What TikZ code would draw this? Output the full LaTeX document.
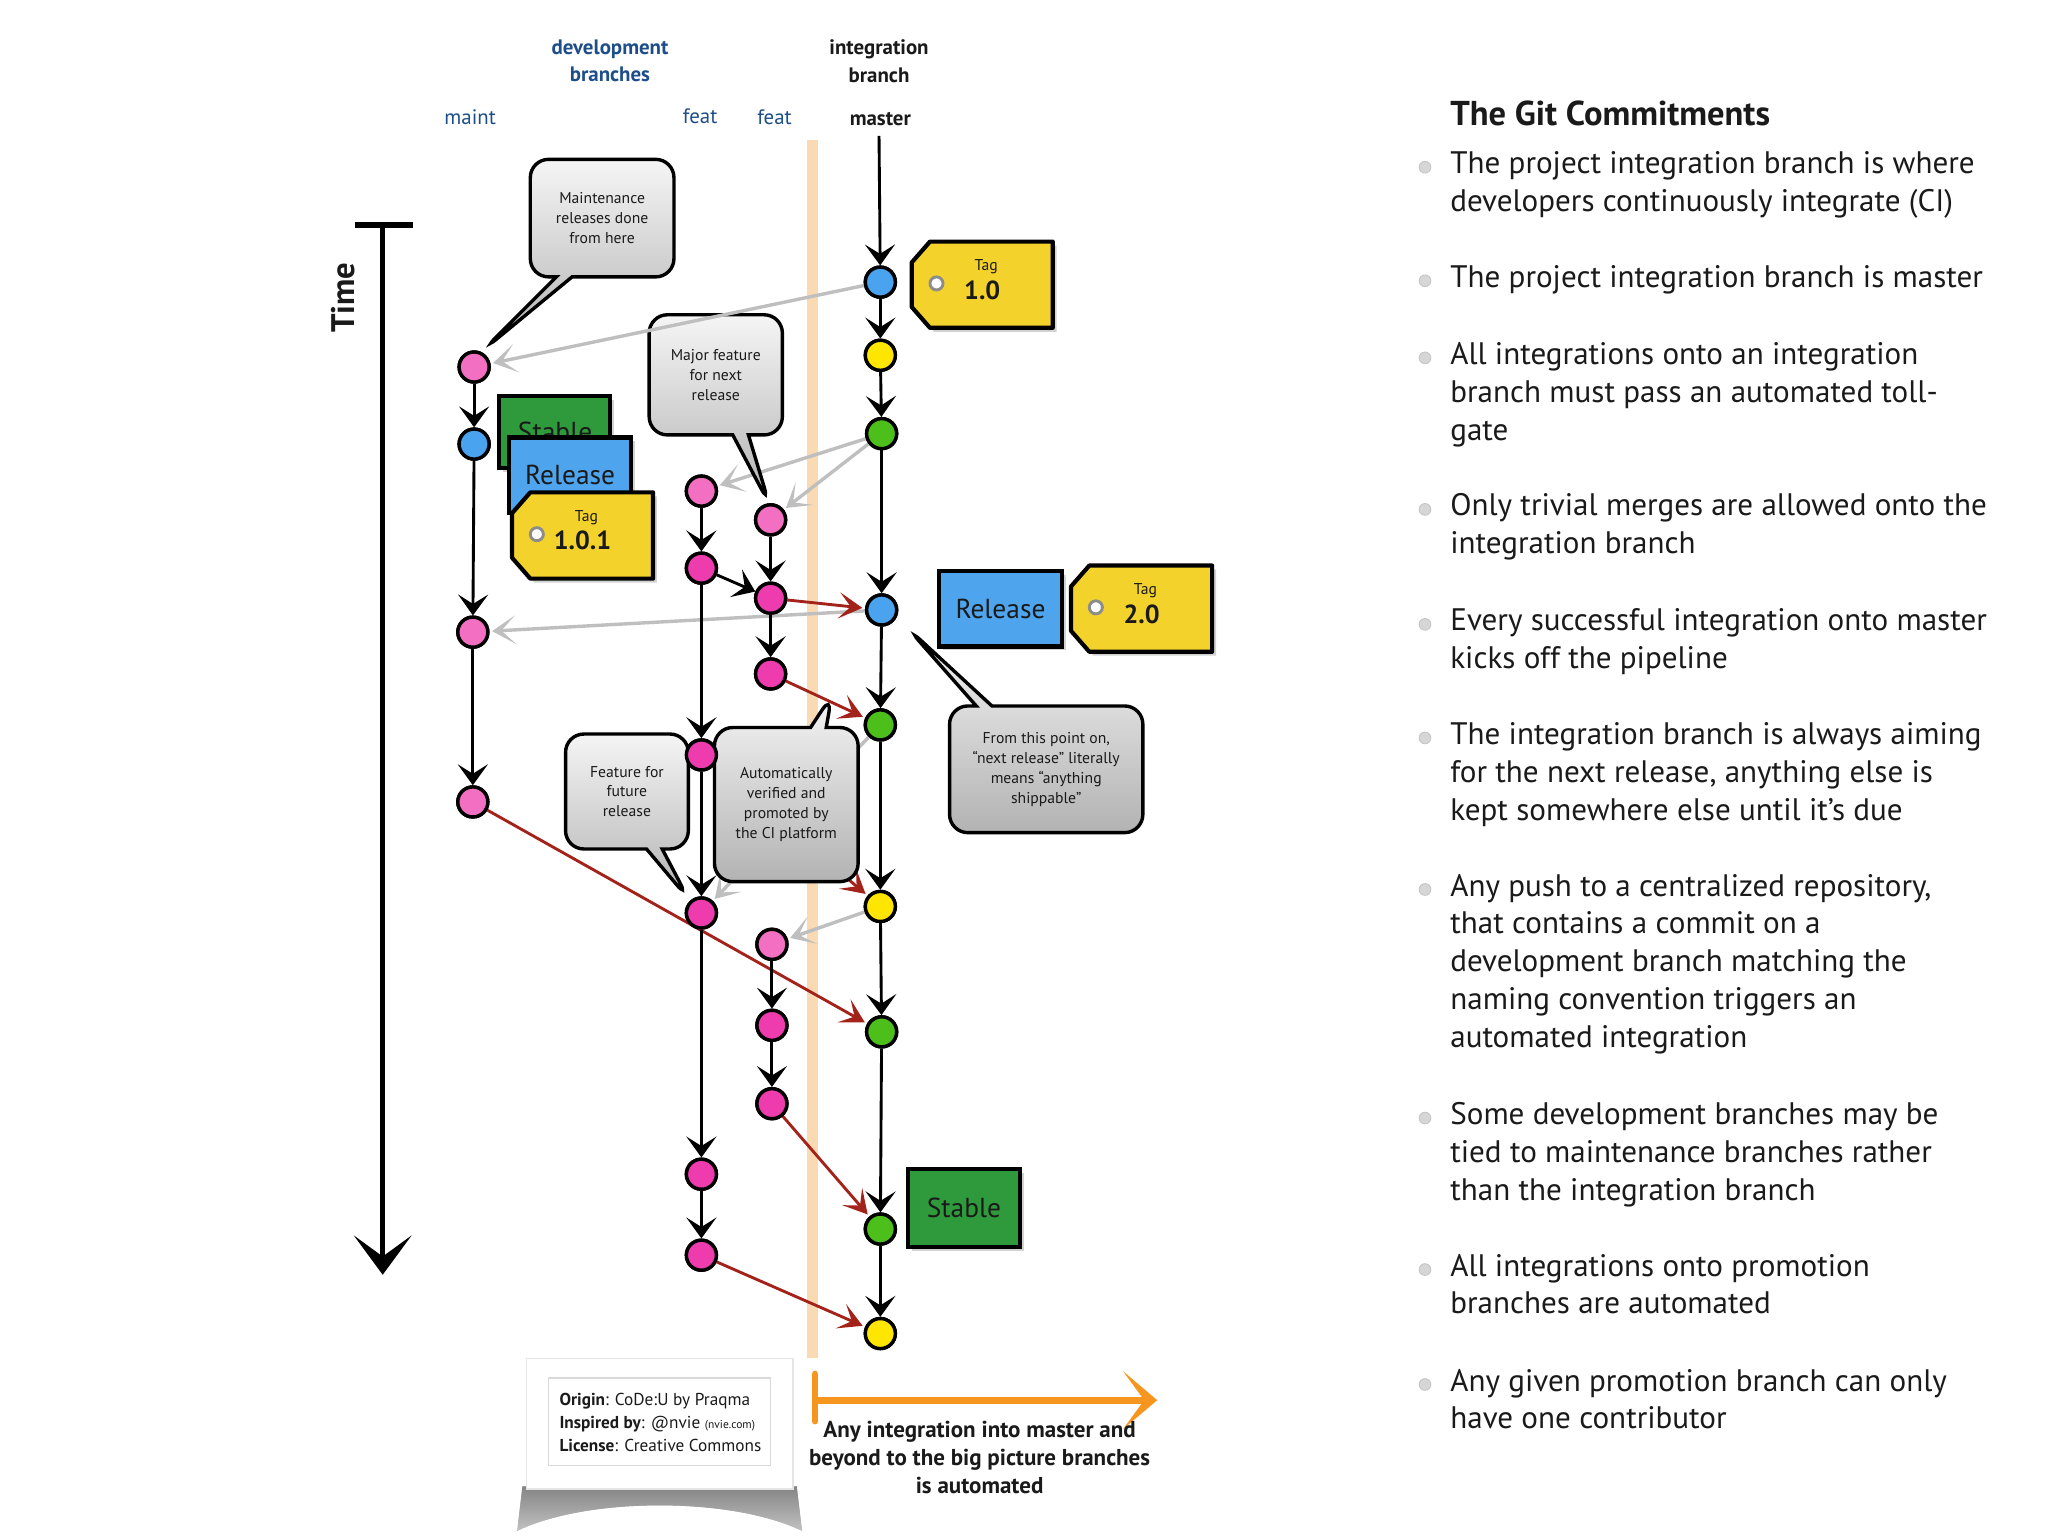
\documentclass[tikz,border=0pt]{standalone}
\usepackage{fontspec}
\setmainfont{PT Sans}
\usetikzlibrary{arrows.meta,shapes.callouts,shadows,calc}
\definecolor{cpink}{HTML}{EE3BAE}
\definecolor{lpink}{HTML}{F36FC1}
\definecolor{cblue}{HTML}{4AA3EE}
\definecolor{cyel}{HTML}{FFE600}
\definecolor{cgreen}{HTML}{4CBF1A}
\definecolor{hdrblue}{HTML}{1D4E89}
\definecolor{relblue}{HTML}{4EA5EE}
\definecolor{stgreen}{HTML}{2F9A3C}
\definecolor{tagyel}{HTML}{F4D22C}
\definecolor{darkred}{HTML}{A3231A}
\definecolor{band}{HTML}{F9DAB2}
\definecolor{orangearr}{HTML}{F7961E}
\definecolor{txt}{HTML}{1A1A1A}
\newcommand{\gittag}[4]{%
  \draw[tagsty] (#1+14,#2) -- (#1+108,#2) -- (#1+108,#2+66) -- (#1+14,#2+66) -- (#1,#2+50) -- (#1,#2+16) -- cycle;
  \draw[fill=white, draw=black!45, line width=1.1pt] (#1+19,#2+32) circle (2.5pt);
  \node[font=\fontsize{6}{7}\selectfont, inner sep=0pt, text=txt] (#3t) at (#1+57,#2+19) {Tag};
  \node[font=\bfseries\fontsize{10}{12}\selectfont, inner sep=0pt, text=txt] (#3) at (#1+54,#2+37) {#4};
}
\begin{document}
\begin{tikzpicture}[x=0.5pt,y=-0.5pt,
  commit/.style={circle, draw=black, line width=1.3pt, minimum size=11.5pt, inner sep=0pt},
  blk/.style={draw=black, line width=1.1pt, -{Stealth[length=8pt,width=11.5pt,inset=3.6pt]}},
  gry/.style={draw=black!25, line width=1.3pt, -{Stealth[length=9pt,width=11pt,inset=5.5pt]}, shorten >=1pt},
  redl/.style={draw=darkred, line width=1.1pt, -{Stealth[length=9pt,width=10pt,inset=4.5pt]}, shorten >=1pt},
  bubble/.style={rectangle callout, draw=black, line width=1.3pt, rounded corners=7pt, top color=black!4, bottom color=black!30, inner sep=0pt, align=center, font=\fontsize{6}{7.6}\selectfont, text=txt, callout pointer width=6pt},
  flagbox/.style={draw=black, line width=1.6pt, inner sep=0pt, font=\fontsize{10.5}{12}\selectfont, text=txt, drop shadow={shadow xshift=1.5pt, shadow yshift=-1.5pt, opacity=0.35}},
  tagsty/.style={fill=tagyel, draw=black, line width=1.6pt, line join=round, drop shadow={shadow xshift=1.5pt, shadow yshift=-1.5pt, opacity=0.35}},
  hdr/.style={font=\fontsize{8}{10.5}\selectfont, inner sep=0pt},
  bl/.style={anchor=base west, font=\fontsize{11.9}{14}\selectfont, text=txt, inner sep=0pt},
  bul/.style={circle, fill=black!16, draw=black!24, line width=0.3pt, minimum size=4.5pt, inner sep=0pt},
]
\useasboundingbox (0,0) rectangle (1568,1176);
\fill[white] (0,0) rectangle (1568,1176);

% ---------- headers ----------
\node[hdr, font=\bfseries\fontsize{8}{10.5}\selectfont, text=hdrblue, align=center] (devb) at (467,46.5) {development\\branches};
\node[hdr, font=\bfseries\fontsize{8}{10.5}\selectfont, text=txt, align=center] (intb) at (673,47) {integration\\branch};
\node[hdr, text=hdrblue] (lmaint) at (360,90) {maint};
\node[hdr, text=hdrblue] (lfeatA) at (536,89) {feat};
\node[hdr, text=hdrblue] (lfeatB) at (593,90) {feat};
\node[hdr, font=\bfseries\fontsize{8}{10.5}\selectfont, text=txt] (lmaster) at (674,91) {master};

% ---------- orange band ----------
\fill[band] (618,107) rectangle (626,1040);

% ---------- time axis ----------
\coordinate (ttop) at (293,172);
\coordinate (tbot) at (293,976);
\draw[line width=2.4pt] (272,172) -- (316,172);
\draw[line width=1.9pt, -{Stealth[length=15pt,width=22pt,inset=8pt]}] (ttop) -- (tbot);
\node[font=\bfseries\fontsize{12.5}{14}\selectfont, rotate=90, text=txt] (time) at (263,228) {Time};

% ---------- commits ----------
\coordinate (mtop) at (673,104);
\node[commit, fill=cblue]  (m1) at (674,216) {};
\node[commit, fill=cyel]   (m2) at (674,272) {};
\node[commit, fill=cgreen] (m3) at (675,332) {};
\node[commit, fill=cblue]  (m4) at (675,467) {};
\node[commit, fill=cgreen] (m5) at (674,555) {};
\node[commit, fill=cyel]   (m6) at (674,694) {};
\node[commit, fill=cgreen] (m7) at (675,790) {};
\node[commit, fill=cgreen] (m8) at (674,941) {};
\node[commit, fill=cyel]   (m9) at (674,1021) {};

\node[commit, fill=lpink] (a1) at (363,281) {};
\node[commit, fill=cblue] (a2) at (363,340) {};
\node[commit, fill=lpink] (a3) at (362,484) {};
\node[commit, fill=lpink] (a4) at (362,614) {};

\node[commit, fill=lpink] (f1) at (537,376) {};
\node[commit, fill=cpink] (f2) at (537,435) {};
\node[commit, fill=cpink] (f3) at (537,578) {};
\node[commit, fill=cpink] (f4) at (537,699) {};
\node[commit, fill=cpink] (f5) at (537,899) {};
\node[commit, fill=cpink] (f6) at (537,961) {};

\node[commit, fill=lpink] (g1) at (590,398) {};
\node[commit, fill=cpink] (g2) at (590,458) {};
\node[commit, fill=cpink] (g3) at (590,516) {};
\node[commit, fill=lpink] (g4) at (591,723) {};
\node[commit, fill=cpink] (g5) at (591,785) {};
\node[commit, fill=cpink] (g6) at (591,845) {};

% ---------- gray (update) arrows ----------
\draw[gry] (m3) -- (f1);
\draw[gry] (m3) -- (g1);
\draw[gry] (m4) -- (a3);
\draw[gry] (m5) -- (f4);
\draw[gry] (m6) -- (g4);

% ---------- red (integration) arrows ----------
\draw[redl] (g2) -- (m4);
\draw[redl] (g3) -- (m5);
\draw[redl] (f3) -- (m6);
\draw[redl] (a4) -- (m7);
\draw[redl] (g6) -- (m8);
\draw[redl] (f6) -- (m9);

% ---------- callouts ----------
\node[bubble, minimum width=55pt, minimum height=45pt, callout absolute pointer={(370,268)}] (cMaint) at (461,167) {Maintenance\\releases done\\from here};
\node[bubble, minimum width=51pt, minimum height=46pt, callout absolute pointer={(589,386)}] (cMajor) at (548,287) {Major feature\\for next\\release};
\node[bubble, minimum width=47pt, minimum height=44pt, callout absolute pointer={(527,688)}] (cFuture) at (480,606) {Feature for\\future\\release};
\node[bubble, minimum width=55pt, minimum height=59pt, callout absolute pointer={(637,532)}] (cAuto) at (602,616) {Automatically\\verified and\\promoted by\\the CI platform};
\node[bubble, minimum width=74pt, minimum height=48.5pt, callout absolute pointer={(695,481)}] (cShip) at (801,589) {From this point on,\\“next release” literally\\means “anything\\shippable”};

\draw[gry] (m1) -- (a1);

% ---------- black history arrows ----------
\draw[blk] (mtop) -- (m1);
\draw[blk] (m1) -- (m2);
\draw[blk] (m2) -- (m3);
\draw[blk] (m3) -- (m4);
\draw[blk] (m4) -- (m5);
\draw[blk] (m5) -- (m6);
\draw[blk] (m6) -- (m7);
\draw[blk] (m7) -- (m8);
\draw[blk] (m8) -- (m9);
\draw[blk] (a1) -- (a2);
\draw[blk] (a2) -- (a3);
\draw[blk] (a3) -- (a4);
\draw[blk] (f1) -- (f2);
\draw[blk] (f2) -- (f3);
\draw[blk] (f3) -- (f4);
\draw[blk] (f4) -- (f5);
\draw[blk] (f5) -- (f6);
\draw[blk] (f2) -- (g2);
\draw[blk] (g1) -- (g2);
\draw[blk] (g2) -- (g3);
\draw[blk] (g4) -- (g5);
\draw[blk] (g5) -- (g6);

% redraw commits on top of lines
\foreach \n/\c in {m1/cblue,m2/cyel,m3/cgreen,m4/cblue,m5/cgreen,m6/cyel,m7/cgreen,m8/cgreen,m9/cyel,
  a1/lpink,a2/cblue,a3/lpink,a4/lpink,f1/lpink,f2/cpink,f3/cpink,f4/cpink,f5/cpink,f6/cpink,
  g1/lpink,g2/cpink,g3/cpink,g4/lpink,g5/cpink,g6/cpink}
  \draw[fill=\c, draw=black, line width=1.3pt] (\n.center) circle (5.75pt);

% ---------- labels on master ----------
\gittag{698}{185}{tagA}{1.0}
\node[flagbox, fill=relblue, minimum width=47pt, minimum height=29pt] (relM) at (766,466) {Release};
\gittag{820}{433}{tagB}{2.0}
\node[flagbox, fill=stgreen, minimum width=43pt, minimum height=30pt] (stbM) at (738,925) {Stable};

% ---------- labels on maint ----------
\node[flagbox, fill=stgreen, minimum width=42.5pt, minimum height=27.5pt] (stbA) at (424.5,330.5) {};
\node[font=\fontsize{10.5}{12}\selectfont, text=txt, inner sep=0pt] (stbAt) at (425,331) {Stable};
\node[flagbox, fill=relblue, minimum width=46.5pt, minimum height=29pt] (relA) at (436.5,364) {Release};
\gittag{392}{377}{tagC}{1.0.1}

% ---------- footer card ----------
\fill[top color=black!40, bottom color=white, opacity=0.6] (400,1138) -- (610,1138) -- (614,1172) .. controls (560,1146) and (450,1146) .. (396,1172) -- cycle;
\node[fill=white, draw=black!10, line width=0.6pt, minimum width=102pt, minimum height=50pt, inner sep=0pt, drop shadow={shadow xshift=0pt, shadow yshift=-0.8pt, opacity=0.2}] (card) at (505,1090) {};
\node[draw=black!15, line width=0.5pt, minimum width=85pt, minimum height=33.5pt, inner sep=0pt] (cardin) at (505,1088.5) {};
\node[anchor=west, align=left, font=\fontsize{6.6}{8.7}\selectfont, text=txt, inner sep=0pt] (credits) at (428,1089) {\textbf{Origin}: CoDe:U by Praqma\\\textbf{Inspired by}: @nvie {\fontsize{4.4}{5}\selectfont (nvie.com)}\\\textbf{License}: Creative Commons};

% ---------- orange arrow ----------
\coordinate (oaS) at (624,1072);
\coordinate (oaE) at (886,1072);
\draw[orangearr, line width=2.6pt, line cap=round] (624,1052) -- (624,1088);
\draw[orangearr, line width=2.6pt, -{Stealth[length=13pt,width=22pt,inset=8pt]}] (oaS) -- (oaE);
\node[font=\bfseries\fontsize{8.8}{10.8}\selectfont, align=center, text=txt, inner sep=0pt] (auto) at (750,1116) {Any integration into master and\\beyond to the big picture branches\\is automated};

% ---------- right text ----------
\node[anchor=base west, font=\bfseries\fontsize{13.2}{14}\selectfont, text=txt, inner sep=0pt] (title) at (1110,96) {The Git Commitments};
\node[bul] (u1) at (1091,128) {};
\node[bl] (t1a) at (1110,133) {The project integration branch is where};
\node[bl] (t1b) at (1110,162) {developers continuously integrate (CI)};
\node[bul] (u2) at (1091,215) {};
\node[bl] (t2a) at (1110,220) {The project integration branch is master};
\node[bul] (u3) at (1091,274) {};
\node[bl] (t3a) at (1110,279) {All integrations onto an integration};
\node[bl] (t3b) at (1110,308) {branch must pass an automated toll-};
\node[bl] (t3c) at (1110,337) {gate};
\node[bul] (u4) at (1091,390) {};
\node[bl] (t4a) at (1110,395) {Only trivial merges are allowed onto the};
\node[bl] (t4b) at (1110,424) {integration branch};
\node[bul] (u5) at (1091,478) {};
\node[bl] (t5a) at (1110,483) {Every successful integration onto master};
\node[bl] (t5b) at (1110,512) {kicks off the pipeline};
\node[bul] (u6) at (1091,565) {};
\node[bl] (t6a) at (1110,570) {The integration branch is always aiming};
\node[bl] (t6b) at (1110,599) {for the next release, anything else is};
\node[bl] (t6c) at (1110,628) {kept somewhere else until it’s due};
\node[bul] (u7) at (1091,681) {};
\node[bl] (t7a) at (1110,686) {Any push to a centralized repository,};
\node[bl] (t7b) at (1110,715) {that contains a commit on a};
\node[bl] (t7c) at (1110,744) {development branch matching the};
\node[bl] (t7d) at (1110,773) {naming convention triggers an};
\node[bl] (t7e) at (1110,802) {automated integration};
\node[bul] (u8) at (1091,856) {};
\node[bl] (t8a) at (1110,861) {Some development branches may be};
\node[bl] (t8b) at (1110,890) {tied to maintenance branches rather};
\node[bl] (t8c) at (1110,919) {than the integration branch};
\node[bul] (u9) at (1091,972) {};
\node[bl] (t9a) at (1110,977) {All integrations onto promotion};
\node[bl] (t9b) at (1110,1006) {branches are automated};
\node[bul] (u10) at (1091,1060) {};
\node[bl] (t10a) at (1110,1065) {Any given promotion branch can only};
\node[bl] (t10b) at (1110,1094) {have one contributor};
\end{tikzpicture}
\end{document}
